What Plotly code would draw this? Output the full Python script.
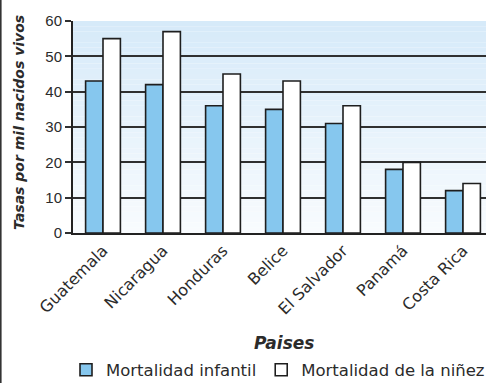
import plotly.graph_objects as go

# Datos: tasas por mil nacidos vivos
paises = ["Guatemala", "Nicaragua", "Honduras", "Belice", "El Salvador", "Panamá", "Costa Rica"]
mortalidad_infantil = [43, 42, 36, 35, 31, 18, 12]
mortalidad_ninez = [55, 57, 45, 43, 36, 20, 14]
y_ticks = [0, 10, 20, 30, 40, 50, 60]

W, H = 486, 383
L, R, T, B = 73, 0, 21, 150
plot_w = W - L - R
plot_h = H - T - B

SANS = "Liberation Sans, Arial, sans-serif"
WIDE = "DejaVu Sans, sans-serif"
TXT = "#2b2b2b"

fig = go.Figure()
fig.add_trace(go.Bar(
    x=paises, y=mortalidad_infantil, name="Mortalidad infantil",
    marker=dict(color="#86c7ee", line=dict(color="#1e1e1e", width=1.6)),
))
fig.add_trace(go.Bar(
    x=paises, y=mortalidad_ninez, name="Mortalidad de la niñez",
    marker=dict(color="#ffffff", line=dict(color="#1e1e1e", width=1.6)),
))

# vertical gradient behind the plot area (light blue at top fading to white)
shapes = []
n = 40
top = (214, 234, 249)
bot = (248, 251, 254)
for i in range(n):
    f = i / (n - 1)
    c = tuple(round(top[k] + (bot[k] - top[k]) * f) for k in range(3))
    shapes.append(dict(
        type="rect", xref="x domain", yref="y domain",
        x0=0, x1=1, y0=1 - (i + 1) / n, y1=1 - i / n,
        fillcolor=f"rgb{c}", line=dict(width=0), layer="below",
    ))
# frame line on the left edge of the figure
shapes.append(dict(
    type="line", xref="paper", yref="paper",
    x0=(0.8 - L) / plot_w, x1=(0.8 - L) / plot_w,
    y0=-B / plot_h, y1=1 + T / plot_h,
    line=dict(color="#333333", width=1.6),
))

fig.update_layout(
    width=W, height=H,
    margin=dict(l=L, r=R, t=T, b=B, autoexpand=False),
    paper_bgcolor="white", plot_bgcolor="rgba(0,0,0,0)",
    barmode="group", bargap=0.42, bargroupgap=0,
    font=dict(family=SANS, color=TXT, size=14),
    shapes=shapes,
    showlegend=True,
    legend=dict(
        orientation="h", x=(66 - L) / plot_w, xanchor="left",
        y=(T + plot_h - 370) / plot_h, yanchor="middle",
        font=dict(family=WIDE, size=16.5, color=TXT),
        itemwidth=30, tracegroupgap=0, bgcolor="rgba(0,0,0,0)",
    ),
    annotations=[
        dict(text="<b><i>Tasas por mil nacidos vivos</i></b>", textangle=-90,
             xref="paper", yref="paper", x=(19 - L) / plot_w, y=(T + plot_h - 123) / plot_h,
             showarrow=False, font=dict(family=WIDE, size=14, color=TXT),
             xanchor="center", yanchor="middle"),
        dict(text="<b><i>Paises</i></b>",
             xref="paper", yref="paper", x=(284 - L) / plot_w, y=(T + plot_h - 343) / plot_h,
             showarrow=False, font=dict(family=WIDE, size=17, color=TXT),
             xanchor="center", yanchor="middle"),
    ],
)

fig.update_xaxes(
    range=[-0.5, -0.5 + plot_w / 60.0], tickangle=-45,
    showline=True, linecolor="#222222", linewidth=2,
    tickfont=dict(family=WIDE, size=16, color=TXT), ticks="", showgrid=False,
)
fig.update_yaxes(
    range=[0, 60], tickvals=y_ticks,
    showgrid=True, gridcolor="#303030", gridwidth=2.2,
    showline=True, linecolor="#222222", linewidth=2,
    ticks="outside", ticklen=6, tickcolor="#303030", tickwidth=2,
    tickfont=dict(family=SANS, size=15, color=TXT), zeroline=False,
)

fig.write_html("out.html")
